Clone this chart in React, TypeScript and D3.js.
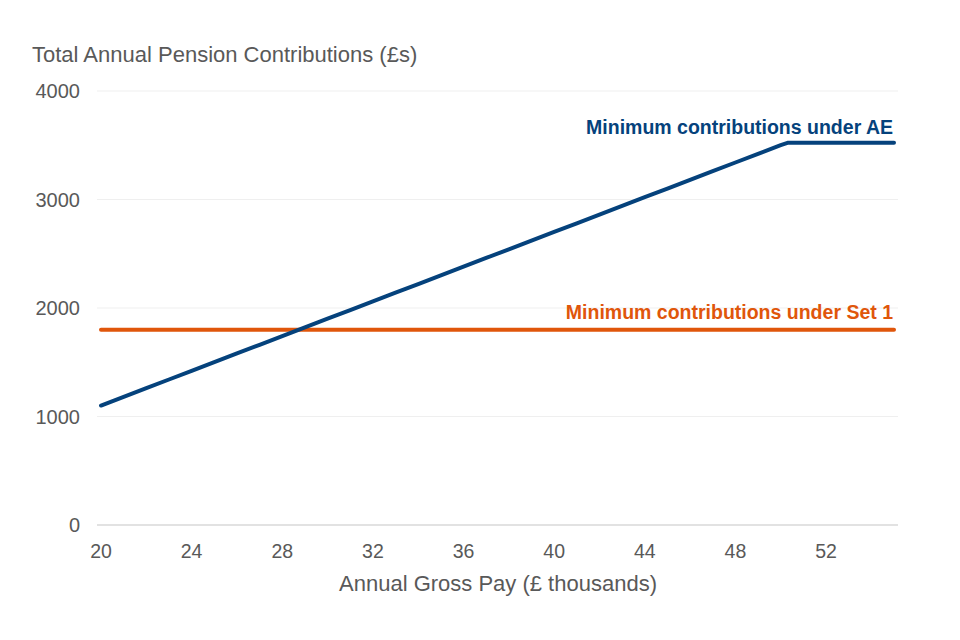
import React from "react";
import * as d3 from "d3";

const payThousands = [20, 21, 22, 23, 24, 25, 26, 27, 28, 29, 30, 31, 32, 33, 34, 35, 36, 37, 38, 39, 40, 41, 42, 43, 44, 45, 46, 47, 48, 49, 50, 50.3, 51, 52, 53, 54, 55];
const aeContrib = [1101, 1181, 1261, 1341, 1421, 1501, 1581, 1661, 1741, 1821, 1901, 1981, 2061, 2141, 2221, 2301, 2381, 2461, 2541, 2621, 2701, 2781, 2861, 2941, 3021, 3101, 3181, 3261, 3341, 3421, 3501, 3522, 3522, 3522, 3522, 3522, 3522];
const set1Contrib = [1800, 1800, 1800, 1800, 1800, 1800, 1800, 1800, 1800, 1800, 1800, 1800, 1800, 1800, 1800, 1800, 1800, 1800, 1800, 1800, 1800, 1800, 1800, 1800, 1800, 1800, 1800, 1800, 1800, 1800, 1800, 1800, 1800, 1800, 1800, 1800, 1800];
const xTicks = [20, 24, 28, 32, 36, 40, 44, 48, 52];
const yTicks = [0, 1000, 2000, 3000, 4000];
const yTitle = "Total Annual Pension Contributions (£s)";
const xTitle = "Annual Gross Pay (£ thousands)";
const aeLabel = "Minimum contributions under AE";
const set1Label = "Minimum contributions under Set 1";

export default function App() {
  const W = 960, H = 640;
  const x = d3.scaleLinear().domain([20, 55]).range([101, 894]);
  const y = d3.scaleLinear().domain([0, 4000]).range([525, 91]);
  const line = d3.line<[number, number]>().x(d => x(d[0])).y(d => y(d[1]));
  const aePts = payThousands.map((p, i) => [p, aeContrib[i]] as [number, number]);
  const s1Pts = payThousands.map((p, i) => [p, set1Contrib[i]] as [number, number]);
  const font = "'Liberation Sans', Arial, sans-serif";
  const gray = "#595959";
  return (
    <svg width={W} height={H} style={{ position: "absolute", left: 0, top: 0, background: "#fff" }} fontFamily={font}>
      {yTicks.filter(t => t > 0).map(t => (
        <line key={t} x1={97} x2={898} y1={y(t)} y2={y(t)} stroke="#efefef" strokeWidth={1} />
      ))}
      <line x1={97} x2={898} y1={y(0)} y2={y(0)} stroke="#d9d9d9" strokeWidth={1.5} />
      {yTicks.map(t => (
        <text key={t} x={80} y={y(t)} dy="0.35em" textAnchor="end" fontSize={20} fill={gray}>{t}</text>
      ))}
      {xTicks.map(t => (
        <text key={t} x={x(t)} y={558} textAnchor="middle" fontSize={19.5} fill={gray}>{t}</text>
      ))}
      <text x={32} y={62} fontSize={22} fill={gray}>{yTitle}</text>
      <text x={498} y={591} textAnchor="middle" fontSize={22} fill={gray}>{xTitle}</text>
      <path d={line(s1Pts) || ""} fill="none" stroke="#E0560B" strokeWidth={4} strokeLinecap="round" />
      <path d={line(aePts) || ""} fill="none" stroke="#05427C" strokeWidth={4} strokeLinecap="round" strokeLinejoin="round" />
      <text x={893} y={134} textAnchor="end" fontSize={19.5} fontWeight="bold" fill="#05427C">{aeLabel}</text>
      <text x={893} y={319} textAnchor="end" fontSize={19.5} fontWeight="bold" fill="#E0560B">{set1Label}</text>
    </svg>
  );
}
